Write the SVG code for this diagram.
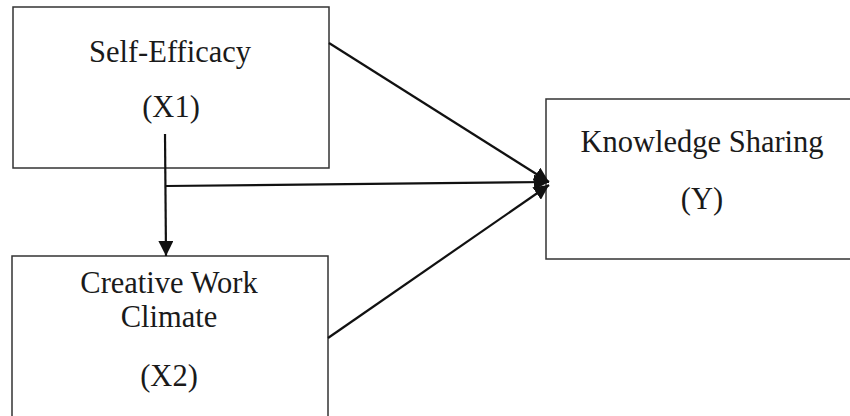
<svg xmlns="http://www.w3.org/2000/svg" width="850" height="416" viewBox="0 0 850 416">
<style>
.box{fill:#fff;stroke:#333;stroke-width:1.5}
.t{font-family:"Liberation Serif","Times New Roman",serif;font-size:30.5px;fill:#1a1a1a;text-anchor:middle}
.c{stroke:#111;stroke-width:2.2;fill:none}
</style>
<defs>
<marker id="ah2" viewBox="0 0 10 10" refX="10" refY="5" markerWidth="15" markerHeight="15" markerUnits="userSpaceOnUse" orient="auto">
<path d="M0,0 L10,5 L0,10 z" fill="#111"/>
</marker>
</defs>
<g id="n-x1">
<rect class="box" x="13" y="7" width="316" height="161"/>
<text class="t" x="170" y="62">Self-Efficacy</text>
<text class="t" x="171" y="117">(X1)</text>
</g>
<g id="n-y">
<rect class="box" x="546" y="99" width="310" height="160"/>
<text class="t" x="702" y="152">Knowledge Sharing</text>
<text class="t" x="702" y="209">(Y)</text>
</g>
<g id="n-x2">
<rect class="box" x="12" y="256" width="316" height="170"/>
<text class="t" x="169" y="293">Creative Work</text>
<text class="t" x="169" y="327">Climate</text>
<text class="t" x="169" y="386">(X2)</text>
</g>
<g id="connectors">
<line class="c" x1="165" y1="134" x2="166" y2="256" marker-end="url(#ah2)"/>
<line class="c" x1="166" y1="186" x2="549" y2="182" marker-end="url(#ah2)"/>
<line class="c" x1="329" y1="43" x2="549" y2="182" marker-end="url(#ah2)"/>
<line class="c" x1="328" y1="338" x2="549" y2="185" marker-end="url(#ah2)"/>
</g>
</svg>
